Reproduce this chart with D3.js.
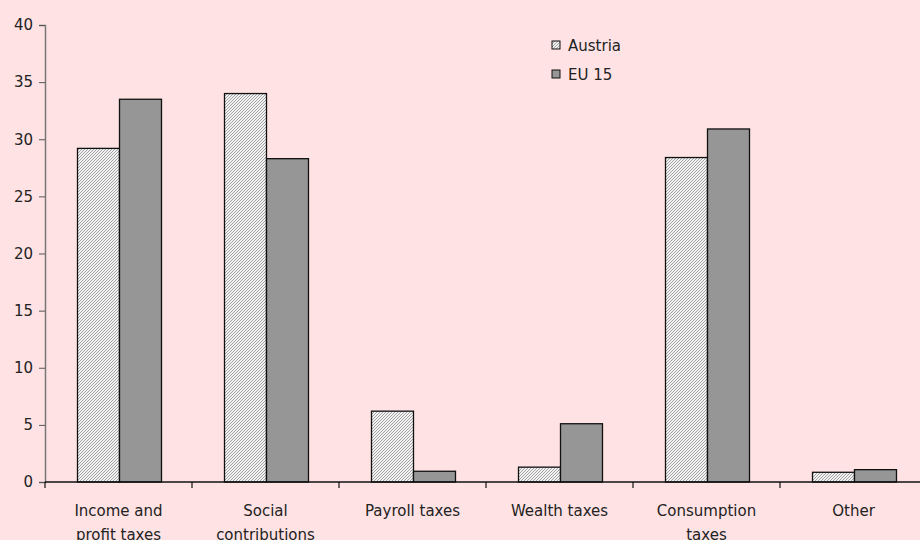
<!DOCTYPE html>
<html>
<head>
<meta charset="utf-8">
<script src="https://cdn.jsdelivr.net/npm/d3@7"></script>
<style>
  body { margin: 0; background: #ffe3e4; }
  svg text { font-family: "DejaVu Sans", sans-serif; fill: #222; }
</style>
</head>
<body>
<div id="chart"></div>
<script>
// categories and values
var categories = [["Income and", "profit taxes"], ["Social", "contributions"], ["Payroll taxes"],
                  ["Wealth taxes"], ["Consumption", "taxes"], ["Other"]];
var austria = [29.2, 34.0, 6.2, 1.3, 28.4, 0.85];
var eu15 = [33.5, 28.3, 0.94, 5.1, 30.9, 1.08];
var seriesNames = ["Austria", "EU 15"];
var yTicks = [0, 5, 10, 15, 20, 25, 30, 35, 40];

var width = 920, height = 540;
var plotLeft = 45, plotTop = 25, plotBottom = 482, plotRight = 927;

var svg = d3.select("#chart").append("svg")
  .attr("width", width)
  .attr("height", height);

svg.append("rect").attr("width", width).attr("height", height).attr("fill", "#ffe3e4");

// hatch pattern for Austria (fine diagonal)
var defs = svg.append("defs");
var pat = defs.append("pattern")
  .attr("id", "hatch")
  .attr("patternUnits", "userSpaceOnUse")
  .attr("width", 3).attr("height", 3);
pat.append("rect").attr("width", 3).attr("height", 3).attr("fill", "#f2f2f2");
pat.append("path")
  .attr("d", "M-1,1 l2,-2 M0,3 l3,-3 M2,4 l2,-2")
  .attr("stroke", "#9a9a9a")
  .attr("stroke-width", 0.9);

var fills = ["url(#hatch)", "#969696"];

var x0 = d3.scaleBand()
  .domain(d3.range(categories.length))
  .range([plotLeft, plotRight]);

var x1 = d3.scaleBand()
  .domain([0, 1])
  .range([1, x0.bandwidth() + 1])
  .paddingOuter(0.75)
  .paddingInner(0);

var y = d3.scaleLinear()
  .domain([0, 40])
  .range([plotBottom, plotTop]);

// y axis
var yAxis = svg.append("g")
  .attr("transform", "translate(" + plotLeft + ",0)")
  .call(d3.axisLeft(y).tickValues(yTicks).tickSize(6).tickPadding(6));
yAxis.select(".domain").attr("stroke", "#777").attr("stroke-width", 1.5);
yAxis.selectAll(".tick line").attr("stroke", "#555");
yAxis.selectAll("text").style("font-size", "15px").attr("fill", "#222")
  .style("font-family", "DejaVu Sans, sans-serif");

// bars
var data = [austria, eu15];
data.forEach(function(vals, s) {
  svg.append("g").selectAll("rect")
    .data(vals)
    .enter()
    .append("rect")
    .attr("x", function(d, i) { return x0(i) + x1(s); })
    .attr("y", function(d) { return y(d); })
    .attr("width", x1.bandwidth())
    .attr("height", function(d) { return plotBottom - y(d); })
    .attr("fill", fills[s])
    .attr("stroke", "#111")
    .attr("stroke-width", 1.3);
});

// x axis
svg.append("line")
  .attr("x1", plotLeft).attr("x2", width)
  .attr("y1", plotBottom).attr("y2", plotBottom)
  .attr("stroke", "#111").attr("stroke-width", 1.3);

svg.append("g").selectAll("line")
  .data(d3.range(categories.length + 1))
  .enter()
  .append("line")
  .attr("x1", function(i) { return plotLeft + i * x0.bandwidth(); })
  .attr("x2", function(i) { return plotLeft + i * x0.bandwidth(); })
  .attr("y1", plotBottom).attr("y2", plotBottom + 6)
  .attr("stroke", "#111").attr("stroke-width", 1.2);

// category labels
var labels = svg.append("g").selectAll("text")
  .data(categories)
  .enter()
  .append("text")
  .attr("text-anchor", "middle")
  .style("font-size", "15px")
  .attr("x", function(d, i) { return x0(i) + x0.bandwidth() / 2; })
  .attr("y", 516);

labels.selectAll("tspan")
  .data(function(d) { return d; })
  .enter()
  .append("tspan")
  .attr("x", function() { return d3.select(this.parentNode).attr("x"); })
  .attr("dy", function(d, i) { return i === 0 ? 0 : 24; })
  .text(function(d) { return d; });

// legend
var legend = svg.append("g").attr("transform", "translate(552,41)");
seriesNames.forEach(function(name, s) {
  legend.append("rect")
    .attr("x", 0).attr("y", s * 29)
    .attr("width", 8).attr("height", 8)
    .attr("fill", fills[s])
    .attr("stroke", "#111")
    .attr("stroke-width", 1);
  legend.append("text")
    .attr("x", 16).attr("y", s * 29 + 10)
    .style("font-size", "15px")
    .text(name);
});
</script>
</body>
</html>
